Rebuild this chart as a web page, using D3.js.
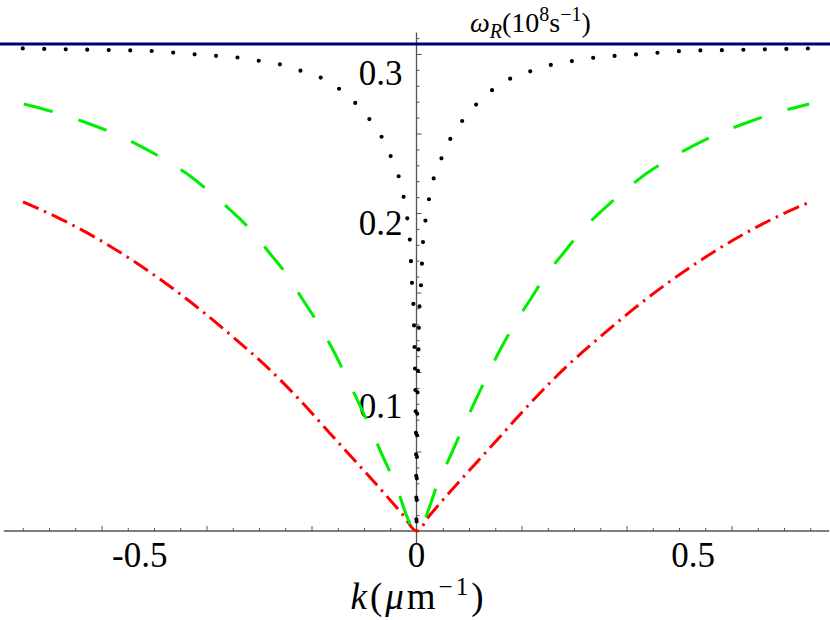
<!DOCTYPE html>
<html>
<head>
<meta charset="utf-8">
<script src="https://cdn.jsdelivr.net/npm/d3@7"></script>
<style>
  html, body { margin: 0; padding: 0; background: #fff; }
</style>
</head>
<body>
<script>
// ---------------- DATA ----------------
// k in μm^-1, ω_R in 10^8 s^-1
const kLimit = [-0.8, 0.8];
const omegaLimit = 0.3063;           // horizontal solid (blue) line

const kDotted = [-0.75, -0.677, -0.595, -0.513, -0.43, -0.388, -0.346, -0.306, -0.266, -0.226, -0.188, -0.151, -0.119, -0.092, -0.065, -0.0434, -0.031, -0.0225, -0.016, -0.0118, -0.0099, -0.008, -0.0054, -0.0035, -0.002, -0.0008, 0,
                 0.0008, 0.002, 0.0035, 0.0054, 0.008, 0.0099, 0.0118, 0.016, 0.0225, 0.031, 0.0434, 0.065, 0.092, 0.119, 0.151, 0.188, 0.226, 0.266, 0.306, 0.346, 0.388, 0.43, 0.513, 0.595, 0.677, 0.75];
const wDotted = [0.3035, 0.303, 0.3025, 0.302, 0.300, 0.299, 0.298, 0.296, 0.294, 0.290, 0.286, 0.279, 0.270, 0.260, 0.247, 0.231, 0.2197, 0.2065, 0.1925, 0.1788, 0.165, 0.1516, 0.1386, 0.111, 0.085, 0.05, 0,
                 0.05, 0.085, 0.111, 0.1386, 0.1516, 0.165, 0.1788, 0.1925, 0.2065, 0.2197, 0.231, 0.247, 0.260, 0.270, 0.279, 0.286, 0.290, 0.294, 0.296, 0.298, 0.299, 0.300, 0.302, 0.3025, 0.303, 0.3035];

const kDashed = [-0.748, -0.688, -0.634, -0.5844, -0.5324, -0.486, -0.4385, -0.3958, -0.3547, -0.3158, -0.2796, -0.2467, -0.2162, -0.1876, -0.159, -0.1337, -0.1114, -0.089, -0.067, -0.0434, 0,
                 0.0434, 0.067, 0.089, 0.1114, 0.1337, 0.159, 0.1876, 0.2162, 0.2467, 0.2796, 0.3158, 0.3547, 0.3958, 0.4385, 0.486, 0.5324, 0.5844, 0.634, 0.688, 0.748];
const wDashed = [0.2686, 0.2633, 0.2574, 0.2511, 0.2432, 0.2348, 0.225, 0.2138, 0.2019, 0.1893, 0.1747, 0.161, 0.1453, 0.1306, 0.1138, 0.097, 0.0815, 0.0655, 0.049, 0.0321, 0,
                 0.0321, 0.049, 0.0655, 0.0815, 0.097, 0.1138, 0.1306, 0.1453, 0.161, 0.1747, 0.1893, 0.2019, 0.2138, 0.225, 0.2348, 0.2432, 0.2511, 0.2574, 0.2633, 0.2686];

const kDotDash = [-0.7495, -0.6796, -0.6034, -0.54, -0.4765, -0.413, -0.3495, -0.286, -0.2225, -0.159, -0.0257, 0,
                  0.0257, 0.159, 0.2225, 0.286, 0.3495, 0.413, 0.4765, 0.54, 0.6034, 0.6796, 0.7495];
const wDotDash = [0.207, 0.1965, 0.183, 0.170, 0.1555, 0.1395, 0.122, 0.1035, 0.0824, 0.0593, 0.0101, 0,
                  0.0101, 0.0593, 0.0824, 0.1035, 0.122, 0.1395, 0.1555, 0.170, 0.183, 0.1965, 0.207];

// axes / ticks
const xAxisExtent = [-0.786, 0.786];
const yAxisExtent = [-0.0075, 0.3135];
const xMajorTicks = [-0.6, -0.4, -0.2, 0.2, 0.4, 0.6];
const xMinorTicks = [-0.75, -0.7, -0.65, -0.55, -0.5, -0.45, -0.35, -0.3, -0.25, -0.15, -0.1, -0.05,
                     0.05, 0.1, 0.15, 0.25, 0.3, 0.35, 0.45, 0.5, 0.55, 0.65, 0.7, 0.75];
const yMajorTicks = [0.05, 0.1, 0.15, 0.2, 0.25, 0.3];
const yMinorTicks = [0.01, 0.02, 0.03, 0.04, 0.06, 0.07, 0.08, 0.09, 0.11, 0.12, 0.13, 0.14, 0.16, 0.17, 0.18, 0.19,
                     0.21, 0.22, 0.23, 0.24, 0.26, 0.27, 0.28, 0.29, 0.31];
// tick labels and the data positions where they sit in the reference
const xTickLabels = ["-0.5", "0", "0.5"];
const xTickLabelAt = [-0.527, 0, 0.527];
const yTickLabels = ["0.1", "0.2", "0.3"];
const yTickLabelAt = [0.0786, 0.1937, 0.288];

// ---------------- CHART ----------------
const W = 830, H = 620;
const FONT = "Liberation Serif";
const svg = d3.select("body").append("svg").attr("width", W).attr("height", H)
  .attr("font-family", FONT);

const x = d3.scaleLinear().domain(kLimit).range([416.5 - 420, 416.5 + 420]);
const y = d3.scaleLinear().domain([0, 0.3]).range([531, 54]);

const axisColor = "#555";

// x axis line + ticks
svg.append("line")
  .attr("x1", x(xAxisExtent[0])).attr("x2", x(xAxisExtent[1]))
  .attr("y1", y(0)).attr("y2", y(0))
  .attr("stroke", axisColor).attr("stroke-width", 1.3);
const gxMaj = svg.append("g").attr("transform", `translate(0,${y(0)})`)
  .call(d3.axisTop(x).tickValues(xMajorTicks).tickSize(5).tickSizeOuter(0).tickFormat(""));
const gxMin = svg.append("g").attr("transform", `translate(0,${y(0)})`)
  .call(d3.axisTop(x).tickValues(xMinorTicks).tickSize(3).tickSizeOuter(0).tickFormat(""));

// y axis line + ticks
svg.append("line")
  .attr("x1", x(0)).attr("x2", x(0))
  .attr("y1", y(yAxisExtent[0])).attr("y2", y(yAxisExtent[1]))
  .attr("stroke", axisColor).attr("stroke-width", 1.3);
const gyMaj = svg.append("g").attr("transform", `translate(${x(0)},0)`)
  .call(d3.axisRight(y).tickValues(yMajorTicks).tickSize(5).tickSizeOuter(0).tickFormat(""));
const gyMin = svg.append("g").attr("transform", `translate(${x(0)},0)`)
  .call(d3.axisRight(y).tickValues(yMinorTicks).tickSize(3).tickSizeOuter(0).tickFormat(""));

[gxMaj, gxMin, gyMaj, gyMin].forEach(g => {
  g.select(".domain").remove();
  g.selectAll(".tick line").attr("stroke", axisColor).attr("stroke-width", 1);
});

// tick labels
svg.append("g").selectAll("text").data(xTickLabels).join("text")
  .attr("x", (d, i) => x(xTickLabelAt[i]))
  .attr("y", 567)
  .attr("text-anchor", "middle")
  .attr("font-family", FONT)
  .attr("font-size", 35)
  .text(d => d);
svg.append("g").selectAll("text").data(yTickLabels).join("text")
  .attr("x", x(0) - 14)
  .attr("y", (d, i) => y(yTickLabelAt[i]))
  .attr("dy", "0.35em")
  .attr("text-anchor", "end")
  .attr("font-family", FONT)
  .attr("font-size", 35)
  .text(d => d);

// axis titles
const xt = svg.append("text").attr("x", x(0) + 2).attr("y", 609).attr("text-anchor", "middle")
  .attr("font-family", FONT).attr("font-size", 37).attr("letter-spacing", 3);
xt.append("tspan").attr("font-style", "italic").text("k");
xt.append("tspan").text("(");
xt.append("tspan").attr("font-style", "italic").text("μ");
xt.append("tspan").text("m");
xt.append("tspan").attr("font-size", 25).attr("dy", -14).text("−1");
xt.append("tspan").attr("dy", 14).text(")");

const yt = svg.append("text").attr("x", 470).attr("y", 32).attr("font-family", FONT).attr("font-size", 28);
yt.append("tspan").attr("font-style", "italic").text("ω");
yt.append("tspan").attr("font-style", "italic").attr("font-size", 20).attr("dy", 6).text("R");
yt.append("tspan").attr("dy", -6).text("(10");
yt.append("tspan").attr("font-size", 20).attr("dy", -11).text("8");
yt.append("tspan").attr("dy", 11).text("s");
yt.append("tspan").attr("font-size", 20).attr("dy", -11).text("−1");
yt.append("tspan").attr("dy", 11).text(")");

// curves
const line = d3.line().x(d => x(d[0])).y(d => y(d[1])).curve(d3.curveMonotoneX);
const zip = (a, b) => a.map((v, i) => [v, b[i]]);

svg.append("path")
  .attr("d", line(zip(kDotDash, wDotDash)))
  .attr("fill", "none").attr("stroke", "#ff0000").attr("stroke-width", 3)
  .attr("stroke-dasharray", "17 6 2.5 6");

svg.append("path")
  .attr("d", line(zip(kDashed, wDashed)))
  .attr("fill", "none").attr("stroke", "#00ee00").attr("stroke-width", 3)
  .attr("stroke-dasharray", "30 27");

svg.append("path")
  .attr("d", line(zip(kDotted, wDotted)))
  .attr("fill", "none").attr("stroke", "#000").attr("stroke-width", 4.2)
  .attr("stroke-linecap", "round")
  .attr("stroke-dasharray", "0 21.5");

svg.append("path")
  .attr("d", line(kLimit.map(k => [k, omegaLimit])))
  .attr("fill", "none").attr("stroke", "#00007f").attr("stroke-width", 3.2);
</script>
</body>
</html>
